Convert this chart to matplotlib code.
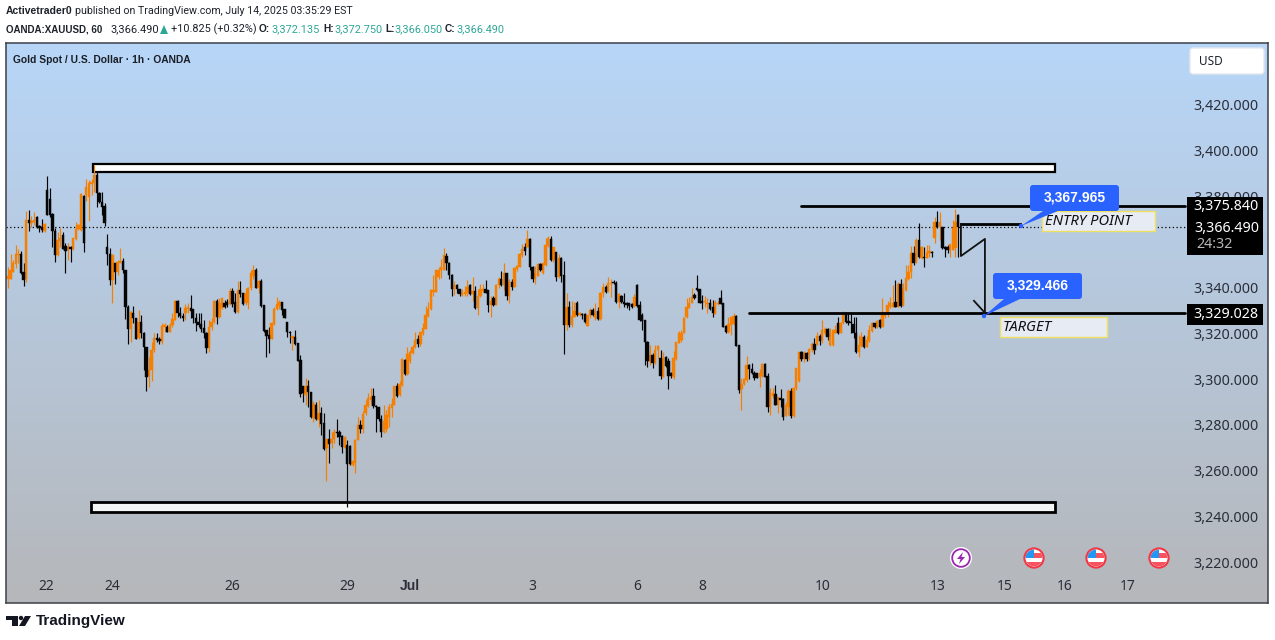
import numpy as np
import matplotlib
matplotlib.use("Agg")
import matplotlib.pyplot as plt
from matplotlib.patches import Circle, FancyBboxPatch, Polygon, Rectangle

plt.rcParams['font.family'] = ['Noto Sans', 'DejaVu Sans']
HEAD_FONT = ['Roboto', 'Liberation Sans', 'DejaVu Sans']
BOLD_FONT = ['Liberation Sans', 'DejaVu Sans']

# hourly candles, prices minus 3000
opens = [
    344,344,347,350.4,354.5,355,347,343.7,369.7,368.5,
    368.8,371,367,366.5,365,383,378.7,372.3,365,354.3,
    360.6,363,358.3,356.5,357.7,357,361.2,365.9,365.3,380.2,
    380.6,379.9,385.4,385.7,389.4,381.6,377.7,375.8,358,355,
    343.4,350.7,347,350.7,351.9,348,331.4,322,329,326.6,
    317.9,325,320.3,314,301.4,304,312.8,317.9,317.4,316.4,
    322.7,322.7,320.8,323.7,326,334.3,328.8,327.8,328.8,330.6,
    331,330.6,326.6,325,324,322.2,320.3,313.8,322.7,325,
    334.2,327.3,331,333.5,334,333,338.7,333.8,329.5,339,
    337.6,333.2,333.5,339.8,345,347.8,339.8,343.1,332.3,321.5,
    319.2,317.7,324.1,330.6,332,333.8,330.6,325,320.8,318.2,
    318.6,315.7,308.4,297,293,297,294.5,282.9,288.8,282.1,
    285.3,280.7,269.7,273.7,271.9,273.7,277,277,275.1,270.1,
    271.2,270.7,262.4,263.4,273.4,280,278,285,288.2,290.9,
    292.6,288.2,287.7,282.8,276.8,278,283.6,287.2,288.7,297,
    293,297.4,308.4,302.3,308,311.6,313.9,317.4,
    315.4,320,322.1,327.6,330.6,338.2,338.3,344.6,347.8,348,
    353.9,351,345.6,339.3,341.2,339.3,337,337.3,337.6,341.4,
    337.3,338.4,331.1,336.4,338.7,339.3,339,332.5,335.4,332.5,
    341.1,343.7,341.1,346.3,336.4,342.7,340.5,348.1,349.2,354.4,
    357.7,357.7,361.2,349.2,343.7,345.3,350.4,346.6,350,358.3,
    361.2,352.2,355.8,344.9,352.9,345.6,323.7,331.4,323.7,327.4,
    333.2,328,328.5,328.5,323.3,328.1,330.3,326.6,329.8,326.2,
    337.6,340.2,338.4,341.7,342.7,342.2,333.8,336.4,333.9,333.2,
    333.2,332.9,332,341.2,332.5,328.1,325.9,316.3,307.7,310.4,
    306.9,312.8,309.1,301.1,309.6,308.1,302.5,301.1,308.8,316,
    317.1,320.4,327.1,331.2,333.2,337,339.8,339.3,334.2,333.8,
    332.9,333.5,331.7,328.5,332.9,335.4,333.2,323.3,320.8,323.7,
    324.2,327.6,314.9,295.6,297.9,299.6,306.2,304.3,302.6,302.6,
    301.1,301.4,306.6,301.4,288,292.6,293.5,288.7,291.6,291.2,
    284,288,295,283.9,296,299.3,312,308.7,311.6,311,
    312.8,315.4,315.4,318.9,
    317.1,320.1,321.8,315,315,320.4,324.7,320.4,324.4,329.1,
    325.6,325.2,324.1,320.1,312,314.5,318.6,314.2,316.8,321.2,
    324.4,322.7,325.9,323,327.6,328.5,331.4,331.7,333.9,331.7,
    341.7,332.4,339,343.7,347.1,355.1,351.4,360.9,352.9,353.3,
    353,355.4,355.8,361.6,369,366.5,366.8,358,357.7,356.5,
    356.5,357.3,371.9,
]
closes = [
    345,348,351,354.8,355,346.3,343.4,369.7,368.2,369.4,
    369.7,366.5,366,365.3,368,372,372,365,354.3,361,
    361.6,357,356.2,358,357,361.6,365.6,367.3,381,359.4,
    384,386,386.4,389.4,381.6,377.7,375.5,368.5,355,343.4,
    354.3,347,351.4,351.7,348,331.7,322,329.4,326.6,317.7,
    325,320.3,314.2,301,304,312.8,317.9,317,316.8,323.3,
    323.7,320.8,323.7,326.2,334.2,328.8,327.6,327,331,331.4,
    330,326.6,324.7,323.7,321.8,320,313.5,322.7,325,334.3,
    327.3,333.2,335.4,331.4,332.5,338.7,333,329.4,339,337.3,
    332.9,337.6,339.8,346.3,347.8,340,343.1,332,321.2,318.9,
    317.6,324.4,330.6,332.9,333.9,330.3,326.9,320.8,320.3,318.9,
    315.4,308,293.5,293.8,297,294.5,283.3,289.1,282.4,285,
    280.4,269.3,273.7,271.6,274,277,276.3,274.8,270.4,274.5,
    262.9,262.9,264.2,273.4,280,278,284.7,288.7,291.6,292,
    288.2,287.7,282.4,276.8,281.8,284.3,287.7,289.1,297,292.6,
    297.9,308.7,302.3,311,312,314.2,317.1,315.4,
    320.8,322.6,327.9,330.7,339,339,347.8,348,349,354.4,
    351,345.6,339.5,341.2,339.3,337.3,337.9,338.2,340.2,337.3,
    338.4,331,336.4,339.3,339.3,337.9,332.5,334.1,332.6,341.2,
    343.7,341.1,346.3,336.4,342.7,340.2,348.5,349.5,354.8,356.8,
    356,361.5,349,343.7,346.3,350.4,347.8,350.7,358.7,361.6,
    352.2,357.7,344.9,352.9,345.2,323.7,331.4,323.7,327.6,330,
    328.1,329.1,328,325,328.1,330.3,328.1,329.1,326.2,337.9,
    340.2,338.3,342.2,342.2,342.2,333.8,337.3,333.8,332.9,332.5,
    332.2,331.7,335.8,332,325.9,325.6,316.3,308.1,310.4,307.2,
    312.8,314.5,301.4,309.1,305.8,301.4,301.4,309.1,316.3,320,
    320.4,326.6,331.4,333.5,335.8,335.4,338.9,333.5,333.5,334.4,
    333.5,330.9,329.1,333.5,333.5,332.9,323,320.8,324.2,327.1,
    327.6,314.5,295.3,297.9,299.9,306.2,304.3,302.6,300.7,300.7,
    302.6,306.6,301.1,288,294.1,293.8,288.7,292.1,290.9,283.3,
    288.7,295,283.9,296,304.7,312,308.8,311.3,308.7,313.1,
    315.4,312.8,318.9,316.9,
    321.5,321.8,318.6,320.1,321.5,321.5,320.1,324.7,329.1,325.2,
    324.7,324.4,320.1,312,315,318.6,314.2,317.1,321.5,324.4,
    322.7,325.6,322.7,329.5,328.8,332.5,333.5,333.5,331.7,341.7,
    332,339.3,344.1,347.1,355.1,351,360.9,353.3,357.7,353,
    355.8,356.2,355.1,369,366.5,369,357.3,356.8,356.5,359.2,
    366,369,366.49,
]
highs = [
    349,355,352,358.7,357,356,351,373.7,374,371.4,
    373,371.4,367.5,370,368.5,389,383.5,372.6,366,364.5,
    366,364.5,359.7,359.4,358.3,362,368.8,368,381.6,380.6,
    387.5,387.2,387.5,393.7,390.8,382,382,377,363.5,357.3,
    354.8,350.7,352,357.3,353,348,332.5,330,332,326.6,
    330.3,328,320.8,314.2,309.8,316.4,320,320.3,318.3,324.7,
    324.4,323.7,324.7,329,334.6,334.6,331.4,328.8,332.9,333.2,
    336.8,330.6,328.8,328.8,328.8,325.9,320.8,325.9,326.6,334.6,
    335,335.4,335.4,334.6,335,340,339.8,337.6,343,343,
    337.6,339.8,340.5,347.8,350,348.5,343.4,343.7,332.5,321.5,
    323,324.7,331.7,336.1,334.6,333.8,330.9,325,321.2,318.9,
    321.5,316,310.6,297,300.4,299.6,294.5,290.6,290.1,290.9,
    287.7,285,273.7,278,277,278,282.4,277.7,275.6,275.1,
    273.4,271.2,264.2,273.7,283.6,282.1,286.2,290.9,293.8,296,
    296,288.7,287.7,284.3,288.7,286.5,289.1,291.6,297,298.5,
    299.3,309.1,308.7,313.9,312.8,315,320.8,319.3,
    320.8,324.7,332,333.9,339.3,345.6,347.8,349.2,352.5,357.6,
    355.4,351.4,346,343.1,341.7,339.6,339.6,340.8,343.4,341.7,
    344.6,340.8,339.3,341.7,341.7,343.4,339,336.4,336.4,341.7,
    344.9,347.5,350.7,346.3,343.7,343.7,349,350,355.4,359.2,
    359.5,365.3,361.6,349.5,349.5,351,350.7,351,361.6,362.6,
    362.7,357.7,355.8,355,353.3,351.9,337.9,334.4,334.4,334,
    334.4,329.5,329.1,328.8,328.1,331,331,333.5,331.7,338.3,
    342,341.2,344.6,343.7,343.4,343.1,337.6,336.8,337.6,333.9,
    333.5,333.5,337.3,341.7,334.4,329.1,325.9,316.9,315,311.3,
    315,315,312.8,312,310.2,309.1,303.3,312.5,316.4,321.2,
    321.5,327.1,335.4,335.8,339.8,337.6,345.4,339.6,336.8,336.4,
    335.4,334.9,334.6,334.6,334.4,339,333.5,323.7,327.1,327.4,
    329.1,327.9,314.9,300.4,300.4,310.1,306.6,307.2,303.7,302.9,
    304.3,307.2,306.9,302.5,296,296,297.4,292.4,295.6,291.6,
    290.2,295.6,296,296.7,304.7,312,312.5,312.5,312,313.5,
    316.4,317.9,320.8,319.8,
    325.9,323,322.3,322.3,321.8,323.7,327.4,325.2,330,329.5,
    329.5,328.8,327.4,327.4,319.3,320.8,319.3,318.9,323.7,325.2,
    324.7,325.9,326.2,335.4,329.5,334.4,336.1,341.2,343.4,342.7,
    343.7,341.9,350,350,358.3,358.3,361.6,368.2,358.3,357.7,
    358.7,358.7,356.2,370.8,373.8,373.3,366.8,358.3,358.7,359.2,
    369.7,374.3,372.3,
]
lows = [
    340,344,347,348.5,351,346,341,342.7,365,366.5,
    367.5,366,364.5,364.5,364.5,372,371,358,351.4,354,
    358,357,346.6,352,351.4,356.5,361,365.3,365,355.8,
    378,369.4,380.6,382,375.2,377,372,367,350,341.2,
    333.2,341.6,345.6,350.7,346.6,326.2,315.4,316.4,324.4,317.7,
    317.4,317.9,304,295,296.7,299,312,316.4,315.4,315.4,
    320.8,320.8,320.8,323,326,327.3,326.6,325.6,325.9,328.8,
    326.6,324.4,321.2,323,320.8,317.9,311.6,312,321.5,324.4,
    324,326.6,330.6,331,331.4,332.5,331.7,328.8,328.8,336.1,
    332.5,332.5,330.6,339,344,339.8,337.9,331.7,320.8,309.6,
    311.6,317.4,323.7,330.3,330.6,328.1,326.8,318.3,316,312.8,
    315,308,292.3,290.1,288.7,288,282.9,281.4,282.1,279.2,
    275.6,269,255.6,263.4,269.7,271.9,274.8,271.2,267.8,269.7,
    244.2,262.4,262,259,273.4,276.6,276.3,284.3,288,288.7,
    287.2,277,281.8,274.5,276.6,277,279.2,283.6,288.7,292.3,
    292.6,297,301.8,301.8,307,311,313.5,314,
    314.5,319.5,321.8,327.4,330.3,336.4,338.3,343.7,344.1,347.8,
    348,343.7,336.4,336.8,337.6,336.4,336.4,336.4,336.4,337,
    334.4,330.6,328.1,335.8,338.3,337.6,329.5,327.4,332,332.5,
    339.8,340.8,339,334.7,333.5,339,340.2,347.5,349,353.6,
    354.4,357.7,348,342.7,341.7,345.2,347.5,346,349.5,358,
    351.9,351.4,343.1,344.1,342.7,311,321.5,323,323,327.1,
    327.6,327.6,326.2,324.7,323.3,326.6,327.6,325.9,325.9,325.9,
    335.8,337.6,338.3,335.8,341.7,333.5,331,333.5,331.7,331,
    330.3,331,331.7,331.7,325.6,321.5,306.2,305.2,306.2,304.7,
    306.6,309.1,300,301.1,305.5,295.5,300.4,300,308.4,315.7,
    316.4,320.1,326.6,331,333.2,335,338.7,333.2,330.6,331.7,
    328.8,330.3,327.1,328.5,332.5,332.9,322.7,320.4,320.4,319.3,
    323.7,314.5,294.1,286.5,297.4,298.9,299.9,302.3,299.6,300.4,
    296.7,301.1,301.1,285.8,284.3,291.6,288.7,285.1,287.7,282.1,
    283.9,284.3,282.9,283.6,295.3,298.9,308.1,307.7,308.1,308.4,
    312,311,315,315,
    315.7,319.3,317.1,314.5,314.6,320.1,319.8,320.1,324.1,324.4,
    323.7,320.1,317.9,311.6,309.8,314.2,313.5,313.9,316.4,320.8,
    322.3,322.3,322.4,322.7,326.6,327.4,331,331.4,331.4,331.4,
    331.7,332,338.7,343.4,344.1,350,351,353,352.4,349,
    352.9,353.3,353.3,359.7,366,360.9,356.8,353.6,355.1,353.3,
    356.5,353.6,353.3,
]
base_price = 3000

# axis labels, 3,360 sits fully behind the price tag so it is left out
price_ticks = [3220, 3240, 3260, 3280, 3300, 3320, 3340, 3380, 3400, 3420]
day_labels = ['22', '24', '26', '29', 'Jul', '3', '6', '8', '10', '13', '15', '16', '17']
day_bars = [14.6, 40, 86, 130, 154, 201, 241, 266, 312, 356, 382, 405, 429]

# drawn levels
last_price = 3366.49
resist_level = 3375.84
target_level = 3329.028
entry_level = 3367.965
target_call = 3329.466

ORANGE = '#f77f00'
BLACK = '#050505'

o = np.array(opens) + base_price
c = np.array(closes) + base_price
h = np.array(highs) + base_price
l = np.array(lows) + base_price
bars = np.arange(len(o))
up = c >= o

fig = plt.figure(figsize=(12.75, 6.4), dpi=100, facecolor='white')
ax = fig.add_axes([6 / 1275, 37 / 640, 1262 / 1275, 560 / 640])

# background gradient
grad = np.linspace(0, 1, 256).reshape(-1, 1)
cols = np.array([184, 214, 248]) + grad[..., None] * (np.array([181, 183, 186]) - np.array([184, 214, 248]))
ax.imshow(cols / 255, extent=(0, 1, 0, 1), transform=ax.transAxes, aspect='auto', zorder=0)

ax.set_xlim(-0.77, 482.76)
ax.set_ylim(3202.06, 3447.13)

# zones
ax.add_patch(Rectangle((32.6, 3390.7), 368.5, 3.5, fc='white', ec='black', lw=1.6, zorder=2))
ax.add_patch(Rectangle((31.8, 3241.9), 369.3, 4.4, fc='#f3f6f5', ec='black', lw=2, zorder=2))

ax.plot([-0.77, 451], [last_price, last_price], color='black', lw=0.9, ls=(0, (1, 2)), zorder=2)

# candles
ax.vlines(bars[up], l[up], h[up], color=ORANGE, lw=0.85, zorder=3)
ax.vlines(bars[~up], l[~up], h[~up], color=BLACK, lw=0.85, zorder=3)
ax.bar(bars[up], (c - o)[up], bottom=o[up], width=0.9, color=ORANGE, ec=ORANGE, lw=0.3, zorder=3)
ax.bar(bars[~up], (c - o)[~up], bottom=o[~up], width=0.9, color=BLACK, ec=BLACK, lw=0.3, zorder=3)

# levels and move drawing
ax.plot([303.8, 451], [resist_level, resist_level], color='black', lw=2, zorder=4, solid_capstyle='round')
ax.plot([283.9, 451], [target_level, target_level], color='black', lw=2, zorder=4, solid_capstyle='round')
ax.plot([365, 387.7], [entry_level, entry_level], color='black', lw=2, zorder=4)
ax.plot([365.1, 365.1, 374.3, 374.3, 370.1], [entry_level, 3353.9, 3361.4, target_level, 3334.3],
        color='#111111', lw=1.3, zorder=4)

# axis labels drawn inside the box
ax.set_xticks(day_bars)
ax.set_xticklabels(day_labels)
ax.yaxis.tick_right()
ax.set_yticks(price_ticks)
ax.set_yticklabels([f'{p:,.3f}' for p in price_ticks])
ax.tick_params(axis='x', length=0, pad=-17, labelsize=10, labelcolor='#2a2e39')
ax.tick_params(axis='y', length=0, pad=-54, labelsize=10.3, labelcolor='#2a2e39')
for lab in ax.get_xticklabels():
    if lab.get_text() == 'Jul':
        lab.set_family(BOLD_FONT)
        lab.set_fontweight('bold')
for lab in ax.get_yticklabels():
    lab.set_horizontalalignment('left')
for s in ax.spines.values():
    s.set_color('#3c4048')
    s.set_linewidth(1.1)
    s.set_zorder(6)

# overlay in picture pixels for the page furniture
ov = fig.add_axes([0, 0, 1, 1], facecolor='none')
ov.set_xlim(0, 1275)
ov.set_ylim(640, 0)
ov.axis('off')

DARK = '#1d212a'
TEAL = '#2ba797'
ov.text(6, 11, 'Activetrader0', fontsize=7.5, family=BOLD_FONT, fontweight='bold', color=DARK, va='center')
ov.text(75, 11, 'published on TradingView.com, July 14, 2025 03:35:29 EST', fontsize=7.65, family=HEAD_FONT, color=DARK, va='center')
ov.text(6, 29, 'OANDA:XAUUSD, 60', fontsize=7.05, family=BOLD_FONT, fontweight='bold', color=DARK, va='center')
ov.text(110, 29, '3,366.490', fontsize=7.9, family=HEAD_FONT, color=DARK, va='center')
ov.add_patch(Polygon([[160, 34], [168, 34], [164, 25]], fc=TEAL, ec='none'))
ov.text(171, 29, '+10.825 (+0.32%)', fontsize=7.8, family=HEAD_FONT, color=DARK, va='center')
for lx, vx, lab, val in [(259, 271, 'O:', '3,372.135'), (323, 334, 'H:', '3,372.750'),
                         (385, 394, 'L:', '3,366.050'), (445, 456, 'C:', '3,366.490')]:
    ov.text(lx, 29, lab, fontsize=7.3, family=BOLD_FONT, fontweight='bold', color=DARK, va='center')
    ov.text(vx, 29, val, fontsize=7.8, family=HEAD_FONT, color=TEAL, va='center')
ov.text(13, 60, 'Gold Spot / U.S. Dollar · 1h · OANDA', fontsize=7.4, family=BOLD_FONT, fontweight='bold',
        color='#1a1e26', va='center')

ov.add_patch(FancyBboxPatch((1190, 48), 74, 26, boxstyle='round,pad=0,rounding_size=3',
                            fc='white', ec='#e3e8ee', lw=1))
ov.text(1199, 61.5, 'USD', fontsize=8.5, color=DARK, va='center')

# price tags on the scale
ov.add_patch(Rectangle((1187, 197), 76, 58, fc='black', ec='none', zorder=5))
ov.add_patch(Rectangle((1187, 304), 76, 21, fc='black', ec='none', zorder=5))
ov.text(1259, 207, '3,375.840', fontsize=10.3, color='white', ha='right', va='center', zorder=6)
ov.text(1259, 228, '3,366.490', fontsize=10.3, color='white', ha='right', va='center', zorder=6)
ov.text(1196, 245, '24:32', fontsize=10.3, color='#b8b8b8', ha='left', va='center', zorder=6)
ov.text(1259, 315, '3,329.028', fontsize=10.3, color='white', ha='right', va='center', zorder=6)

# blue callouts
BLUE = '#2962ff'
for bx, by, tail, label in [(1030, 185, [(1043, 211), (1058, 211), (1021, 226)], '3,367.965'),
                            (993, 273, [(1004, 299), (1020, 299), (984, 316)], '3,329.466')]:
    ov.add_patch(FancyBboxPatch((bx, by), 89, 26, boxstyle='round,pad=0,rounding_size=3', fc=BLUE, ec='none', zorder=4))
    ov.add_patch(Polygon(tail, fc=BLUE, ec='none', zorder=4))
    ov.add_patch(Circle(tail[2], 2.2, fc=BLUE, ec='none', zorder=4))
    ov.text(bx + 44.5, by + 12.5, label, fontsize=10, family=BOLD_FONT, fontweight='bold', color='white',
            ha='center', va='center', zorder=5)

# text boxes
ov.add_patch(Rectangle((1042, 211), 113, 20, fc='#e6ebf4', ec='#f0e060', lw=1, zorder=3))
ov.text(1045, 221.5, 'ENTRY POINT', fontsize=10.6, style='italic', color='#111111', va='center', zorder=5)
ov.add_patch(Rectangle((1000, 317), 107, 20, fc='#e6ebf4', ec='#f0e060', lw=1, zorder=3))
ov.text(1003, 327.5, 'TARGET', fontsize=10.6, style='italic', color='#111111', va='center', zorder=5)

# event icons
ov.add_patch(Circle((961, 558), 11, fc='white', ec='none'))
ov.add_patch(Circle((961, 558), 8.8, fc='white', ec='#9c27b0', lw=1.3))
ov.add_patch(Polygon([[963, 552], [957, 559], [960.5, 559], [959, 564], [965, 557], [961.5, 557]], fc='#9c27b0', ec='none'))
for fx in [1034, 1096, 1159]:
    ring = Circle((fx, 558), 9.6, fc='white', ec='#f23645', lw=1.5, zorder=2)
    ov.add_patch(ring)
    stripes = [Rectangle((fx - 10, 553), 20, 5, fc='#f7525f', ec='none', zorder=3),
               Rectangle((fx - 10, 562), 20, 5, fc='#f7525f', ec='none', zorder=3),
               Rectangle((fx - 9, 549), 9, 9, fc='#2196f3', ec='none', zorder=4)]
    for s in stripes:
        ov.add_patch(s)
        s.set_clip_path(Circle((fx, 558), 8.4, transform=ov.transData))

# logo
ov.add_patch(Polygon([[6, 616], [18, 616], [18, 626], [12, 626], [12, 620], [6, 620]], fc='#131722', ec='none'))
ov.add_patch(Circle((21, 618), 2.2, fc='#131722', ec='none'))
ov.add_patch(Polygon([[25, 616], [31, 616], [25, 626], [19, 626]], fc='#131722', ec='none'))
ov.text(36, 621, 'TradingView', fontsize=11, family=BOLD_FONT, fontweight='bold', color='#131722', va='center')

fig.savefig('out.png', dpi=100)
plt.close(fig)
